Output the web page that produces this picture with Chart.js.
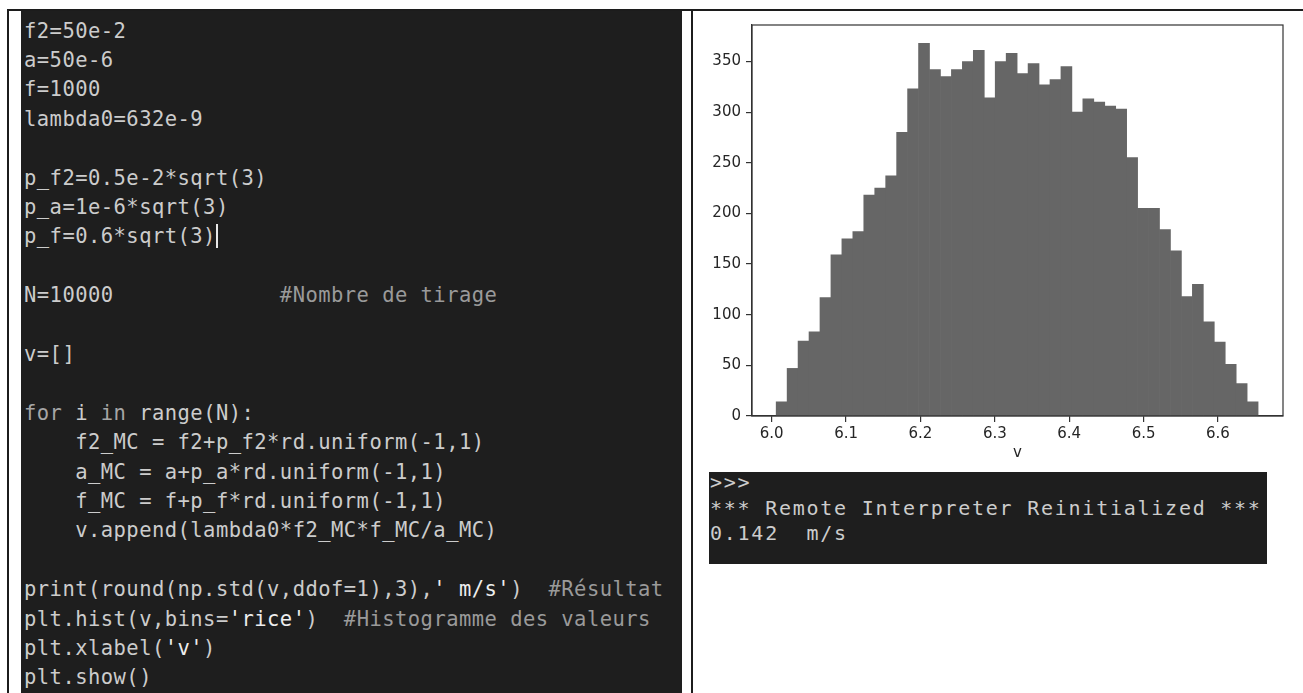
<!DOCTYPE html>
<html>
<head>
<meta charset="utf-8">
<script src="https://cdn.jsdelivr.net/npm/chart.js@4.4.0/dist/chart.umd.min.js"></script>
<style>
  html, body { margin: 0; padding: 0; background: #fff; }
  #page { position: relative; width: 1303px; height: 693px; overflow: hidden; background: #fff; }
  .line { position: absolute; background: #1c1c1c; }
  #code {
    position: absolute; left: 21px; top: 11px; width: 661px; height: 682px;
    background: #1e1e1e; margin: 0; box-sizing: border-box;
    padding: 5.5px 0 0 3px; overflow: hidden;
    font-family: 'DejaVu Sans Mono', monospace; font-size: 20.5px; letter-spacing: 0.45px;
    line-height: 29.4px; color: #cccccc; white-space: pre;
  }
  #code .kw { color: #a6a6a6; }
  #code .cm { color: #9a9a9a; }
  #code .st { color: #eeeeee; }
  #code .cur { display: inline-block; width: 2px; height: 24px; background: #e8e8e8; vertical-align: -5px; }
  #console {
    position: absolute; left: 709px; top: 472px; width: 558px; height: 92px;
    background: #1e1e1e; margin: 0; box-sizing: border-box; padding: 0 0 0 1px; overflow: hidden;
    font-family: 'DejaVu Sans Mono', monospace; font-size: 20px; letter-spacing: 1.75px;
    line-height: 25.5px; color: #cccccc; white-space: pre;
  }
  #console span { position: relative; top: -2px; }
  #histo { position: absolute; left: 693px; top: 11px; }
</style>
</head>
<body>
<div id="page">
  <div class="line" style="left:7px; top:9px; width:1296px; height:2px;"></div>
  <div class="line" style="left:7px; top:9px; width:2px; height:684px;"></div>
  <div class="line" style="left:691px; top:9px; width:2px; height:684px;"></div>

<pre id="code">f2=50e-2
a=50e-6
f=1000
lambda0=632e-9

p_f2=0.5e-2*sqrt(3)
p_a=1e-6*sqrt(3)
p_f=0.6*sqrt(3)<span class="cur"></span>

N=10000             <span class="cm">#Nombre de tirage</span>

v=[]

<span class="kw">for</span> i <span class="kw">in</span> range(N):
    f2_MC = f2+p_f2*rd.uniform(-1,1)
    a_MC = a+p_a*rd.uniform(-1,1)
    f_MC = f+p_f*rd.uniform(-1,1)
    v.append(lambda0*f2_MC*f_MC/a_MC)

print(round(np.std(v,ddof=1),3),<span class="st">' m/s'</span>)  <span class="cm">#Résultat</span>
plt.hist(v,bins=<span class="st">'rice'</span>)  <span class="cm">#Histogramme des valeurs</span>
plt.xlabel(<span class="st">'v'</span>)
plt.show()</pre>

  <canvas id="histo" width="610" height="459"></canvas>

<pre id="console"><span>&gt;&gt;&gt;
*** Remote Interpreter Reinitialized ***
0.142  m/s</span></pre>
</div>

<script>
// Effectifs de l'histogramme (44 classes, bins='rice')
const counts = [14, 47, 74, 83, 117, 159, 175, 182, 218, 225, 237, 280, 323, 368, 342,
                335, 342, 350, 361, 314, 350, 358, 338, 348, 327, 332, 345, 300, 313, 310,
                306, 303, 255, 205, 205, 184, 163, 118, 130, 93, 73, 51, 32, 14];
const vMin = 6.006;   // bord gauche de la premiere classe
const vMax = 6.654;   // bord droit de la derniere classe
const xTicks = [6.0, 6.1, 6.2, 6.3, 6.4, 6.5, 6.6];
const yTicks = [0, 50, 100, 150, 200, 250, 300, 350];
const xLimits = [5.9735, 6.6875];
const yLimits = [0, 386];

Chart.defaults.font.family = "'DejaVu Sans', sans-serif";
Chart.defaults.font.size = 15;
Chart.defaults.color = '#262626';

const binW = (vMax - vMin) / counts.length;
const bars = counts.map((c, i) => ({ x: vMin + (i + 0.5) * binW, y: c }));

// cadre complet autour de la zone de trace (style matplotlib)
const cadre = {
    id: 'cadre',
    afterDatasetsDraw(chart) {
        const { ctx, chartArea: a } = chart;
        ctx.save();
        ctx.strokeStyle = '#333';
        ctx.lineWidth = 1.2;
        ctx.strokeRect(a.left, a.top, a.right - a.left, a.bottom - a.top);
        ctx.restore();
    }
};

const ctx = document.getElementById('histo').getContext('2d');
new Chart(ctx, {
    type: 'bar',
    data: {
        datasets: [{
            data: bars,
            backgroundColor: '#666666',
            borderWidth: 0,
            barPercentage: 1,
            categoryPercentage: 1
        }]
    },
    options: {
        responsive: false,
        animation: false,
        layout: { padding: { top: 10, right: 20, left: 0, bottom: 0 } },
        plugins: {
            legend: { display: false },
            tooltip: { enabled: false }
        },
        scales: {
            x: {
                type: 'linear',
                offset: false,
                min: xLimits[0],
                max: xLimits[1],
                afterBuildTicks: s => { s.ticks = xTicks.map(v => ({ value: v })); },
                afterFit: s => { s.height = 54; },
                grid: { offset: false, drawOnChartArea: false, tickLength: 6, color: '#333', lineWidth: 1.2 },
                border: { color: '#333', width: 1.2 },
                ticks: { padding: 3, maxRotation: 0, autoSkip: false, callback: v => v.toFixed(1) },
                title: { display: true, text: 'v', padding: { top: 0, bottom: 8 } }
            },
            y: {
                min: yLimits[0],
                max: yLimits[1],
                afterBuildTicks: s => { s.ticks = yTicks.map(v => ({ value: v })); },
                afterFit: s => { s.width = 59; },
                grid: { drawOnChartArea: false, tickLength: 6, color: '#333', lineWidth: 1.2 },
                border: { color: '#333', width: 1.2 },
                ticks: { padding: 5 }
            }
        }
    },
    plugins: [cadre]
});
</script>
</body>
</html>
